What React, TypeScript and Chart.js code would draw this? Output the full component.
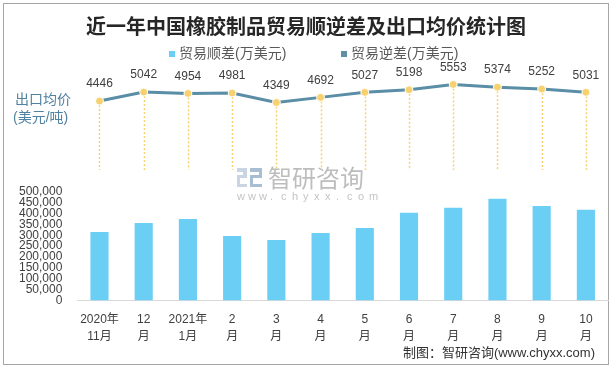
import React, { useEffect, useRef } from 'react';
import { Chart, registerables } from 'chart.js';

Chart.register(...registerables);

const categories: string[][] = [
  ['2020年', '11月'], ['12', '月'], ['2021年', '1月'], ['2', '月'], ['3', '月'], ['4', '月'],
  ['5', '月'], ['6', '月'], ['7', '月'], ['8', '月'], ['9', '月'], ['10', '月'],
];
const surplus = [315000, 356000, 375000, 296000, 278000, 310000, 333000, 403000, 426000, 468000, 435000, 417000];
const deficit: (number | null)[] = [null, null, null, null, null, null, null, null, null, null, null, null];
const avgPrice = [4446, 5042, 4954, 4981, 4349, 4692, 5027, 5198, 5553, 5374, 5252, 5031];
const barTicks = [0, 50000, 100000, 150000, 200000, 250000, 300000, 350000, 400000, 450000, 500000];

const TITLE = '近一年中国橡胶制品贸易顺逆差及出口均价统计图';
const SURPLUS_LABEL = '贸易顺差(万美元)';
const DEFICIT_LABEL = '贸易逆差(万美元)';
const PRICE_LABEL = ['出口均价', '(美元/吨)'];
const SOURCE = '制图：智研咨询(www.chyxx.com)';

const FONT = "'Liberation Sans', 'Noto Sans CJK SC', sans-serif";
const CJK = "'Noto Sans CJK SC', sans-serif";

const decor = {
  id: 'decor',
  beforeDraw(chart: any) {
    const ctx = chart.ctx;
    ctx.save();
    ctx.fillStyle = '#ffffff';
    ctx.fillRect(0, 0, chart.width, chart.height);
    ctx.strokeStyle = '#a6a6a6';
    ctx.lineWidth = 1;
    ctx.strokeRect(3.5, 3.5, 605, 361);

    // title
    ctx.fillStyle = '#262626';
    ctx.font = `bold 20px ${CJK}`;
    ctx.textAlign = 'center';
    ctx.textBaseline = 'middle';
    ctx.fillText(TITLE, 306, 26);

    // legend
    ctx.font = `14px ${FONT}`;
    ctx.textAlign = 'left';
    ctx.fillStyle = chart.data.datasets[1].backgroundColor;
    ctx.fillRect(169, 51, 6, 6);
    ctx.fillStyle = '#595959';
    ctx.fillText(SURPLUS_LABEL, 179, 54);
    ctx.fillStyle = chart.data.datasets[2].backgroundColor;
    ctx.fillRect(341, 51, 6, 6);
    ctx.fillStyle = '#595959';
    ctx.fillText(DEFICIT_LABEL, 351, 54);

    // left label
    ctx.fillStyle = '#4f81a0';
    ctx.font = `14px ${FONT}`;
    ctx.fillText(PRICE_LABEL[0], 15, 100);
    ctx.fillText(PRICE_LABEL[1], 13, 118);

    // source
    ctx.fillStyle = '#333333';
    ctx.font = `13px ${FONT}`;
    ctx.textAlign = 'right';
    ctx.fillText(SOURCE, 595, 353);

    // watermark
    ctx.fillStyle = '#c9d5e3';
    ctx.fillRect(237, 168, 10, 4);
    ctx.fillRect(243, 168, 4, 10);
    ctx.fillRect(237, 175, 10, 3);
    ctx.fillRect(237, 175, 3, 12);
    ctx.fillRect(237, 184, 10, 3);
    ctx.fillStyle = '#a9bdd3';
    ctx.fillRect(250, 168, 12, 4);
    ctx.fillRect(250, 175, 12, 3);
    ctx.fillRect(250, 175, 3, 12);
    ctx.fillRect(250, 184, 12, 3);
    ctx.fillRect(259, 168, 3, 10);
    ctx.fillStyle = '#bdbdbd';
    ctx.textAlign = 'left';
    ctx.font = `24px ${CJK}`;
    ctx.fillText('智研咨询', 268, 178);
    ctx.fillStyle = '#c4c4c4';
    ctx.font = `11px ${FONT}`;
    const w = 'www.chyxx.com';
    for (let i = 0; i < w.length; i++) {
      ctx.fillText(w[i], 237 + i * 11, 197);
    }
    ctx.restore();
  },
  beforeDatasetsDraw(chart: any) {
    const ctx = chart.ctx;
    const meta = chart.getDatasetMeta(0);
    ctx.save();
    ctx.strokeStyle = '#f6d16e';
    ctx.lineWidth = 1.5;
    ctx.setLineDash([2, 2]);
    meta.data.forEach((p: any) => {
      ctx.beginPath();
      ctx.moveTo(Math.round(p.x) + 0.5, p.y + 4);
      ctx.lineTo(Math.round(p.x) + 0.5, 170);
      ctx.stroke();
    });
    ctx.restore();
  },
  afterDatasetsDraw(chart: any) {
    const ctx = chart.ctx;
    const meta = chart.getDatasetMeta(0);
    ctx.save();
    ctx.fillStyle = '#404040';
    ctx.font = `12px ${FONT}`;
    ctx.textAlign = 'center';
    ctx.textBaseline = 'middle';
    meta.data.forEach((p: any, i: number) => {
      ctx.fillText(String(avgPrice[i]), p.x, p.y - 17);
    });
    ctx.restore();
  },
};

export default function App() {
  const ref = useRef<HTMLCanvasElement | null>(null);
  useEffect(() => {
    document.body.style.margin = '0';
    const chart = new Chart(ref.current as HTMLCanvasElement, {
      type: 'bar',
      data: {
        labels: categories,
        datasets: [
          {
            type: 'line',
            label: '出口均价',
            data: avgPrice,
            yAxisID: 'y2',
            borderColor: '#5a8da6',
            borderWidth: 3,
            pointRadius: 4,
            pointBackgroundColor: '#f6d16e',
            pointBorderColor: '#ffffff',
            pointBorderWidth: 1,
            tension: 0,
            clip: false,
            order: 0,
          } as any,
          {
            type: 'bar',
            label: SURPLUS_LABEL,
            data: surplus,
            yAxisID: 'y',
            backgroundColor: '#6bcef5',
            grouped: false,
            barPercentage: 0.41,
            categoryPercentage: 1,
            order: 1,
          } as any,
          {
            type: 'bar',
            label: DEFICIT_LABEL,
            data: deficit,
            yAxisID: 'y',
            backgroundColor: '#5f8ea5',
            grouped: false,
            barPercentage: 0.41,
            categoryPercentage: 1,
            order: 2,
          } as any,
        ],
      },
      options: {
        responsive: false,
        animation: false,
        layout: { padding: { top: 62, left: 4, right: 6, bottom: 13 } },
        plugins: {
          legend: { display: false },
          title: { display: false },
          tooltip: { enabled: false },
        },
        scales: {
          x: {
            type: 'category',
            offset: true,
            grid: { display: false, drawTicks: false },
            border: { color: '#d9d9d9', width: 1 },
            ticks: {
              color: '#404040',
              font: { size: 12, family: FONT, lineHeight: 1.4 },
              padding: 11,
              maxRotation: 0,
              autoSkip: false,
            },
          },
          y: {
            type: 'linear',
            position: 'left',
            min: 0,
            max: 1097222,
            grid: { display: false, drawTicks: false },
            border: { display: false },
            afterBuildTicks: (s: any) => {
              s.ticks = barTicks.map((v) => ({ value: v }));
            },
            ticks: {
              autoSkip: false,
              padding: 15,
              color: '#404040',
              font: { size: 12, family: FONT },
              callback: (v: any) => Number(v).toLocaleString('en-US'),
            },
          },
          y2: {
            type: 'linear',
            display: false,
            min: -8808,
            max: 7045,
          },
        },
      },
      plugins: [decor],
    } as any);
    return () => chart.destroy();
  }, []);
  return <canvas ref={ref} width={614} height={369} style={{ display: 'block' }} />;
}
